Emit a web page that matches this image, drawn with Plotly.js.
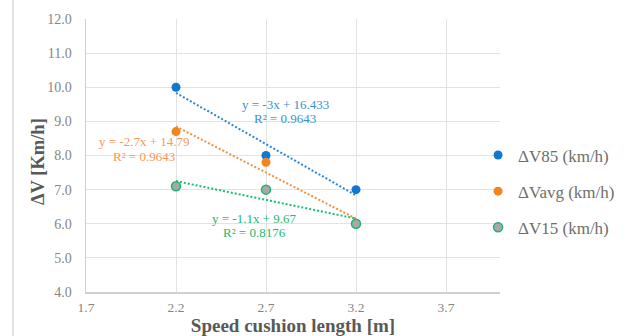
<!DOCTYPE html>
<html>
<head>
<meta charset="utf-8">
<script src="https://cdn.plot.ly/plotly-3.0.1.min.js"></script>
<style>
html,body{margin:0;padding:0;background:#fff;}
#chart{width:633px;height:336px;}
</style>
</head>
<body>
<div id="chart"></div>
<script>
// ---- data ----
const xLength = [2.2, 2.7, 3.2];            // Speed cushion length [m]
const dV85 = [10.0, 8.0, 7.0];               // ΔV85 (km/h)
const dVavg = [8.7, 7.8, 6.0];               // ΔVavg (km/h)
const dV15 = [7.1, 7.0, 6.0];                // ΔV15 (km/h)
const seriesNames = ['ΔV85 (km/h)', 'ΔVavg (km/h)', 'ΔV15 (km/h)'];
const eqLabels = ['y = -3x + 16.433', 'y = -2.7x + 14.79', 'y = -1.1x + 9.67'];
const r2Labels = ['R² = 0.9643', 'R² = 0.9643', 'R² = 0.8176'];
const xTicks = [1.7, 2.2, 2.7, 3.2, 3.7];
const yTicks = [4, 5, 6, 7, 8, 9, 10, 11, 12];
const xTitle = 'Speed cushion length [m]';
const yTitle = 'ΔV [Km/h]';

// linear least-squares trendline (as the spreadsheet does)
function fit(xs, ys) {
  const n = xs.length;
  const mx = xs.reduce((a, b) => a + b, 0) / n;
  const my = ys.reduce((a, b) => a + b, 0) / n;
  let sxy = 0, sxx = 0;
  for (let i = 0; i < n; i++) { sxy += (xs[i] - mx) * (ys[i] - my); sxx += (xs[i] - mx) ** 2; }
  const m = sxy / sxx, b = my - m * mx;
  const xe = [Math.min(...xs), Math.max(...xs)];
  return { x: xe, y: xe.map(v => m * v + b) };
}

const markerColors = ['#0f78d2', '#f5841f', '#a8a8a8'];
const trendColors = ['#2e86d8', '#f78f3c', '#17c070'];
const textColors = ['#3a92d2', '#f7985a', '#1cb971'];
const allY = [dV85, dVavg, dV15];

const traces = [];
allY.forEach((ys, i) => {
  const t = fit(xLength, ys);
  traces.push({
    x: t.x, y: t.y, mode: 'lines', type: 'scatter', showlegend: false, hoverinfo: 'skip',
    line: { color: trendColors[i], width: 2, dash: '2px,2px' }
  });
});
allY.forEach((ys, i) => {
  traces.push({
    x: xLength, y: ys, mode: 'markers', type: 'scatter', name: seriesNames[i],
    legendgroup: 'g' + i,
    marker: {
      size: 9, color: markerColors[i],
      line: i === 2 ? { color: '#1db36f', width: 1.5 } : { width: 0 }
    }
  });
});

// label positions (data coords)
const labelPos = [
  [[2.809, 9.50], [2.806, 9.07]],
  [[2.024, 8.42], [2.021, 7.96]],
  [[2.635, 6.16], [2.638, 5.73]]
];
const annotations = [];
labelPos.forEach((p, i) => {
  annotations.push({ x: p[0][0], y: p[0][1], xref: 'x', yref: 'y', text: eqLabels[i], showarrow: false,
    font: { family: 'Liberation Serif', size: 13, color: textColors[i] } });
  annotations.push({ x: p[1][0], y: p[1][1], xref: 'x', yref: 'y', text: r2Labels[i], showarrow: false,
    font: { family: 'Liberation Serif', size: 13, color: textColors[i] } });
});
// y axis title
annotations.push({
  x: (38 - 86) / 414, y: (292 - 162) / 273, xref: 'paper', yref: 'paper',
  xanchor: 'center', yanchor: 'middle', textangle: -90, showarrow: false,
  text: '<b>' + yTitle + '</b>',
  font: { family: 'Liberation Serif', size: 18.5, color: '#595959' }
});

const layout = {
  width: 633, height: 336,
  margin: { l: 86, r: 133, t: 19, b: 44, pad: 0 },
  paper_bgcolor: '#ffffff', plot_bgcolor: '#ffffff',
  font: { family: 'Liberation Serif', color: '#808080' },
  showlegend: true,
  legend: {
    x: 0.947, xanchor: 'left', y: 0.566, yanchor: 'top',
    font: { family: 'Liberation Serif', size: 17, color: '#6e6e6e' },
    tracegroupgap: 11, bgcolor: 'rgba(0,0,0,0)'
  },
  xaxis: {
    range: [1.7, 4.0], tickvals: xTicks, ticktext: xTicks.map(v => v.toFixed(1)),
    showgrid: true, gridcolor: '#e3e3e3', gridwidth: 1,
    showline: true, linecolor: '#d0d0d0', linewidth: 1.5,
    zeroline: false, ticks: '', ticklabelstandoff: 2,
    tickfont: { family: 'Liberation Serif', size: 13.5, color: '#858585' },
    title: { text: '<b>' + xTitle + '</b>', standoff: 2,
      font: { family: 'Liberation Serif', size: 19, color: '#595959' } }
  },
  yaxis: {
    range: [4, 12], tickvals: yTicks, ticktext: yTicks.map(v => v.toFixed(1)),
    showgrid: true, gridcolor: '#e3e3e3', gridwidth: 1,
    showline: true, linecolor: '#d0d0d0', linewidth: 1.5,
    zeroline: false, ticks: '', ticklabelstandoff: 10,
    tickfont: { family: 'Liberation Serif', size: 14, color: '#858585' }
  },
  annotations: annotations,
  shapes: [{
    type: 'line', xref: 'paper', yref: 'paper',
    x0: (13 - 86) / 414, x1: (13 - 86) / 414, y0: -0.17, y1: 1.08,
    line: { color: '#d9d9d9', width: 1.5 }
  }]
};

Plotly.newPlot('chart', traces, layout, { displayModeBar: false, staticPlot: true });
</script>
</body>
</html>
